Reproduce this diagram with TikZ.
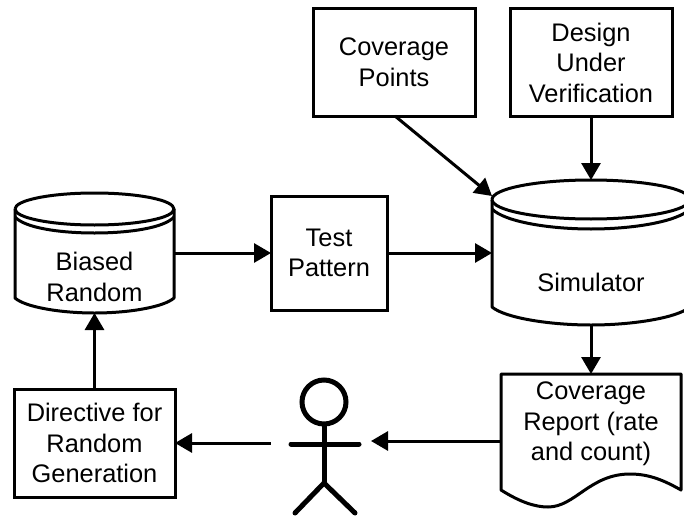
\documentclass[tikz,border=0pt]{standalone}
\usepackage{fontspec}
\setmainfont{Liberation Sans}
\usetikzlibrary{arrows.meta}
\tikzset{
  lbl/.style={font=\fontsize{25.4}{30.5}\selectfont,align=center,inner sep=0pt,outer sep=0pt},
  boxnode/.style={lbl,draw=black,line width=3pt,fill=white,minimum width=#1},
  shapeline/.style={draw=black,line width=3pt,line join=round},
  conn/.style={draw=black,line width=3pt,-{Triangle[length=17pt,width=19pt]}},
  limb/.style={draw=black,line width=5pt,line cap=round}
}
\begin{document}
\begin{tikzpicture}[x=1pt,y=-1pt]
\useasboundingbox (0,0) rectangle (684,516);
% boxes
\node[boxnode=162pt,minimum height=107pt] (cov) at (394,62.5) {Coverage\\Points};
\node[boxnode=162pt,minimum height=107pt] (dut) at (591,62.5) {Design\\Under\\Verification};
\node[boxnode=116pt,minimum height=114pt] (test) at (329,253) {Test\\Pattern};
\node[boxnode=161pt,minimum height=108pt] (dir) at (94.5,443) {Directive for\\Random\\Generation};
% biased random cylinder
\node[lbl,minimum width=159pt,minimum height=72pt] (bias) at (94.5,277) {Biased\\Random};
\draw[shapeline] (15,209) -- (15,298) .. controls (25,307) and (60,313) .. (94.5,313) .. controls (129,313) and (164,307) .. (174,298) -- (174,209);
\draw[shapeline] (15,209) arc[start angle=180,end angle=0,x radius=79.5pt,y radius=-16pt] arc[start angle=0,end angle=-180,x radius=79.5pt,y radius=-16pt];
\draw[shapeline] (15,217) .. controls (25,228) and (60,233) .. (94.5,233) .. controls (129,233) and (164,228) .. (174,217);
% simulator cylinder
\node[lbl,minimum width=198pt,minimum height=86pt] (sim) at (591,282) {Simulator};
\coordinate (simtop) at (591,180);
\coordinate (simcorner) at (492,196);
\draw[shapeline] (492,199.5) -- (492,307) .. controls (505,318) and (550,325) .. (591,325) .. controls (632,325) and (677,318) .. (690,307) -- (690,199.5);
\draw[shapeline] (492,199.5) arc[start angle=180,end angle=0,x radius=99pt,y radius=-19.5pt] arc[start angle=0,end angle=-180,x radius=99pt,y radius=-19.5pt];
\draw[shapeline] (492,209) .. controls (505,222) and (550,229) .. (591,229) .. controls (632,229) and (677,222) .. (690,209);
% document
\node[lbl,minimum width=180pt,minimum height=100pt] (rep) at (591,424) {Coverage\\Report (rate\\and count)};
\draw[shapeline] (501,374) -- (681,374) -- (681,490) .. controls (665,481) and (650,474) .. (630,474) .. controls (590,474) and (575,507) .. (548,507) .. controls (535,507) and (520,502) .. (501,490) -- cycle;
% stick figure
\node[circle,draw=black,line width=5pt,minimum size=44pt,inner sep=0pt,outer sep=0pt] (head) at (324,402) {};
\coordinate (hip) at (324,483);
\coordinate (armL) at (291,444);
\coordinate (armR) at (359,444);
\coordinate (legL) at (295,513);
\coordinate (legR) at (355,513);
\draw[limb,line cap=butt] (head.south) -- (hip);
\draw[limb] (armL) -- (armR);
\draw[limb] (legL) -- (hip) -- (legR);
% connectors
\coordinate (repout) at (501,441);
\coordinate (manin) at (371,441);
\coordinate (manout) at (270.5,443);
\draw[conn] (bias.east |- test.west) -- (test.west);
\draw[conn] (test.east) -- (sim.west |- test.east);
\draw[conn] (cov.south) ++(1,0) -- (simcorner);
\draw[conn] (dut.south) -- (simtop);
\draw[conn] (sim.south) -- (rep.north);
\draw[conn] (repout) -- (manin);
\draw[conn] (manout) -- (dir.east);
\draw[conn] (dir.north) -- (bias.south);
\end{tikzpicture}
\end{document}
